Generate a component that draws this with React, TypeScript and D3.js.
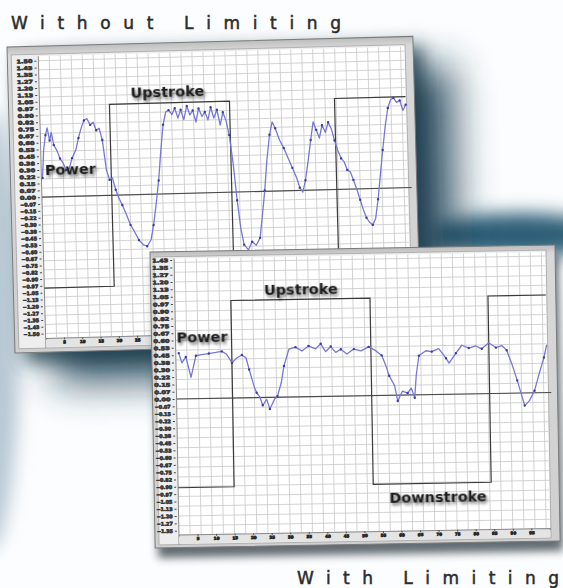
"use client";

import React, { useEffect, useRef } from "react";
import * as d3 from "d3";

// sweep time in % of the captured window, power in units of stroke amplitude
const withoutTime = [
	0.3, 0.8, 1.4, 1.9, 2.5, 3.0, 3.6, 4.4, 5.2, 6.0,
	6.8, 7.7, 8.5, 9.6, 10.4, 11.2, 12.0, 12.8, 13.7, 14.5,
	15.3, 16.1, 16.9, 17.8, 18.6, 19.4, 20.2, 21.0, 21.9, 23.0,
	24.0, 25.1, 26.2, 27.3, 28.4, 29.5, 30.3, 31.1, 32.0, 32.8,
	33.6, 34.4, 35.2, 36.1, 36.9, 37.7, 38.5, 39.3, 40.2, 41.0,
	41.8, 42.6, 43.4, 44.3, 45.1, 45.9, 46.7, 47.5, 48.4, 49.2,
	50.0, 50.8, 51.6, 52.5, 53.3, 54.1, 54.9, 56.0, 57.1, 58.2,
	59.3, 60.1, 60.9, 61.7, 62.6, 63.4, 64.2, 65.3, 66.4, 67.5,
	68.6, 69.7, 70.5, 71.3, 72.1, 73.0, 73.8, 74.6, 75.4, 76.2,
	77.0, 77.9, 78.7, 79.5, 80.3, 81.1, 82.0, 82.8, 83.6, 84.4,
	85.2, 86.1, 86.9, 87.7, 88.5, 89.3, 90.2, 91.0, 91.8, 92.6,
	93.4, 94.3, 95.1, 95.9, 96.7, 97.5, 98.4, 99.2, 100,
];
const withoutPower = [
	0.21, 0.52, 0.68, 0.76, 0.62, 0.71, 0.57, 0.51, 0.42, 0.37,
	0.29, 0.31, 0.42, 0.51, 0.64, 0.75, 0.83, 0.85, 0.78, 0.81,
	0.72, 0.74, 0.61, 0.28, 0.17, 0.19, 0.06, -0.03, -0.11, -0.22,
	-0.33, -0.41, -0.5, -0.55, -0.57, -0.5, -0.34, -0.12, 0.15, 0.48,
	0.76, 0.9, 0.92, 0.87, 0.94, 0.83, 0.92, 0.81, 0.96, 0.86,
	0.91, 0.78, 0.93, 0.84, 0.89, 0.8, 0.94, 0.82, 0.91, 0.74,
	0.88, 0.79, 0.63, 0.3, -0.09, -0.4, -0.58, -0.64, -0.55, -0.59,
	-0.51, -0.26, 0.01, 0.34, 0.62, 0.76, 0.69, 0.56, 0.47, 0.36,
	0.25, 0.14, 0.03, -0.02, 0.11, 0.33, 0.55, 0.75, 0.66, 0.57,
	0.71, 0.63, 0.74, 0.67, 0.54, 0.43, 0.34, 0.3, 0.21, 0.19,
	0.1, -0.01, -0.12, -0.23, -0.32, -0.37, -0.4, -0.33, -0.12, 0.15,
	0.42, 0.69, 0.88, 0.97, 0.99, 0.94, 0.96, 0.85, 0.91,
];
const withoutStrokeTime = [0, 19.1, 51.9, 80.6, 100];
const withoutStrokeLevel = [-1, 1, -1, 1, 1];

const withTime = [
	0.8, 1.6, 2.7, 4.0, 5.4, 7.0, 8.9, 10.8, 12.4, 13.7,
	15.1, 16.4, 17.8, 18.9, 19.7, 21.0, 21.6, 22.4, 23.2, 24.3,
	25.1, 26.4, 27.2, 28.3, 29.1, 30.5, 32.3, 34.0, 35.8, 37.7,
	39.1, 40.4, 41.8, 43.1, 44.5, 46.1, 48.0, 49.9, 52.0, 53.9,
	55.5, 56.6, 57.4, 58.8, 59.6, 60.9, 62.3, 63.3, 64.2, 64.7,
	65.5, 67.4, 69.0, 70.9, 72.8, 73.6, 75.5, 77.1, 79.0, 80.9,
	82.5, 84.4, 86.3, 87.9, 89.2, 90.6, 91.9, 93.0, 93.8, 95.1,
	96.5, 97.8, 99.2, 100,
];
const withPower = [
	0.47, 0.37, 0.43, 0.22, 0.44, 0.45, 0.46, 0.47, 0.48, 0.45,
	0.36, 0.41, 0.44, 0.41, 0.29, 0.11, 0.05, 0.01, -0.08, -0.02,
	-0.12, -0.02, 0.01, 0.15, 0.32, 0.49, 0.51, 0.47, 0.52, 0.49,
	0.54, 0.46, 0.51, 0.45, 0.48, 0.43, 0.48, 0.46, 0.5, 0.46,
	0.41, 0.3, 0.2, 0.1, -0.06, 0.04, 0.02, 0.07, -0.03, 0.2,
	0.4, 0.45, 0.44, 0.47, 0.37, 0.32, 0.42, 0.5, 0.47, 0.49,
	0.46, 0.52, 0.47, 0.49, 0.44, 0.29, 0.13, -0.02, -0.13, -0.08,
	0.02, 0.19, 0.36, 0.49,
];
const withStrokeTime = [0, 15.1, 52.6, 84.4, 100];
const withStrokeLevel = [-0.91, 1, -0.91, 1, 1];

const titles = ["Without Limiting", "With Limiting"];

const W = 563;
const H = 588;

type Label = { text: string; t: number; v: number; dy: number; anchor: string };
type Panel = {
	key: string;
	x: number;
	y: number;
	angle: number;
	w: number;
	h: number;
	l: number;
	r: number;
	t: number;
	b: number;
	yMin: number;
	yMax: number;
	time: number[];
	power: number[];
	strokeTime: number[];
	strokeLevel: number[];
	labels: Label[];
};

const panels: Panel[] = [
	{
		key: "without",
		x: 7,
		y: 47,
		angle: -1.5,
		w: 406,
		h: 306,
		l: 31,
		r: 397,
		t: 10,
		b: 292,
		yMin: -1.55,
		yMax: 1.55,
		time: withoutTime,
		power: withoutPower,
		strokeTime: withoutStrokeTime,
		strokeLevel: withoutStrokeLevel,
		labels: [
			{ text: "Upstroke", t: 35, v: 1, dy: -6, anchor: "middle" },
			{ text: "Power", t: 1, v: 0.24, dy: 0, anchor: "start" },
		],
	},
	{
		key: "with",
		x: 150,
		y: 252,
		angle: -1,
		w: 405,
		h: 296,
		l: 24,
		r: 395,
		t: 7,
		b: 283,
		yMin: -1.39,
		yMax: 1.44,
		time: withTime,
		power: withPower,
		strokeTime: withStrokeTime,
		strokeLevel: withStrokeLevel,
		labels: [
			{ text: "Upstroke", t: 34, v: 1, dy: -5, anchor: "middle" },
			{ text: "Power", t: 0.3, v: 0.58, dy: 0, anchor: "start" },
			{ text: "Downstroke", t: 70, v: -0.91, dy: 19, anchor: "middle" },
		],
	},
];

function drawShadow(svg: any, p: Panel, dx: number, dy: number, blur: string, color: string, op: number) {
	svg
		.append("g")
		.attr("transform", `translate(${p.x + dx},${p.y + dy}) rotate(${p.angle})`)
		.append("rect")
		.attr("width", p.w)
		.attr("height", p.h)
		.attr("fill", color)
		.attr("opacity", op)
		.attr("filter", `url(#${blur})`);
}

function drawPanel(svg: any, defs: any, p: Panel) {
	const g = svg
		.append("g")
		.attr("transform", `translate(${p.x},${p.y}) rotate(${p.angle})`);

	const x = d3.scaleLinear().domain([0, 100]).range([p.l, p.r]);
	const y = d3.scaleLinear().domain([p.yMin, p.yMax]).range([p.b, p.t]);

	// frame
	g.append("rect")
		.attr("width", p.w)
		.attr("height", p.h)
		.attr("fill", "url(#frameFill)")
		.attr("stroke", "#7a7a7a")
		.attr("stroke-width", 1);
	g.append("rect")
		.attr("x", 4)
		.attr("y", p.t - 2)
		.attr("width", p.r - 3)
		.attr("height", p.b - p.t + 12)
		.attr("fill", "#eeeeee")
		.attr("stroke", "#9c9c9c")
		.attr("stroke-width", 0.7);

	// plot face
	g.append("rect")
		.attr("x", p.l)
		.attr("y", p.t)
		.attr("width", p.r - p.l)
		.attr("height", p.b - p.t)
		.attr("fill", "#ffffff");

	const grid = g.append("g").attr("stroke", "#c8c8c8").attr("stroke-width", 0.8);
	grid
		.selectAll("line.v")
		.data(d3.range(3, 100, 3))
		.join("line")
		.attr("x1", (d: number) => x(d))
		.attr("x2", (d: number) => x(d))
		.attr("y1", p.t)
		.attr("y2", p.b);
	grid
		.selectAll("line.h")
		.data(d3.range(Math.ceil(p.yMin * 10), Math.floor(p.yMax * 10) + 1).map((d) => d / 10))
		.join("line")
		.attr("x1", p.l)
		.attr("x2", p.r)
		.attr("y1", (d: number) => y(d))
		.attr("y2", (d: number) => y(d));

	g.append("line")
		.attr("x1", p.l)
		.attr("x2", p.l)
		.attr("y1", p.t)
		.attr("y2", p.b + 10)
		.attr("stroke", "#8a8a8a");

	// left ruler labels (smudged tiny numbers)
	const yTicks = d3.range(Math.ceil(p.yMin / 0.075), Math.floor(p.yMax / 0.075) + 1).map((d) => d * 0.075);
	const yAxis = g
		.append("g")
		.attr("transform", `translate(${p.l - 2},0)`)
		.call(d3.axisLeft(y).tickValues(yTicks).tickSize(2).tickFormat(d3.format(".2f")));
	yAxis.select(".domain").remove();
	yAxis.selectAll("line").attr("stroke", "#444");
	yAxis
		.selectAll("text")
		.attr("font-family", "DejaVu Sans")
		.attr("font-size", 5)
		.attr("font-weight", "bold")
		.attr("fill", "#2a2a2a")
		.attr("stroke", "#3a3a3a")
		.attr("stroke-width", 0.7)
		.attr("textLength", 16)
		.attr("lengthAdjust", "spacingAndGlyphs")
		.attr("dx", 1);

	// bottom ruler
	g.append("rect")
		.attr("x", p.l)
		.attr("y", p.b)
		.attr("width", p.r - p.l)
		.attr("height", 9)
		.attr("fill", "#e4e4e4");
	const xAxis = g
		.append("g")
		.attr("transform", `translate(0,${p.b})`)
		.call(d3.axisBottom(x).tickValues(d3.range(5, 100, 5)).tickSize(2).tickFormat(d3.format("d")));
	xAxis.select(".domain").attr("stroke", "#8a8a8a");
	xAxis.selectAll("line").attr("stroke", "#555");
	xAxis
		.selectAll("text")
		.attr("font-family", "DejaVu Sans")
		.attr("font-size", 4)
		.attr("font-weight", "bold")
		.attr("fill", "#2a2a2a")
		.attr("stroke", "#2a2a2a")
		.attr("stroke-width", 0.8)
		.attr("dy", "0.2em");

	// clip
	defs
		.append("clipPath")
		.attr("id", `clip-${p.key}`)
		.append("rect")
		.attr("x", p.l)
		.attr("y", p.t)
		.attr("width", p.r - p.l + 4)
		.attr("height", p.b - p.t);

	const body = g.append("g").attr("clip-path", `url(#clip-${p.key})`);

	// zero line
	body
		.append("line")
		.attr("x1", p.l)
		.attr("x2", p.r + 4)
		.attr("y1", y(0))
		.attr("y2", y(0))
		.attr("stroke", "#4a4a4a")
		.attr("stroke-width", 1.1);

	// stroke square wave
	const stroke = p.strokeTime.map((tt, i) => [tt, p.strokeLevel[i]] as [number, number]);
	body
		.append("path")
		.attr(
			"d",
			d3
				.line<[number, number]>()
				.x((d) => x(d[0]))
				.y((d) => y(d[1]))
				.curve(d3.curveStepAfter)(stroke)
		)
		.attr("fill", "none")
		.attr("stroke", "#3a3a3a")
		.attr("stroke-width", 1.2);

	// power trace
	const pts = p.time.map((tt, i) => [tt, p.power[i]] as [number, number]);
	body
		.append("path")
		.attr(
			"d",
			d3
				.line<[number, number]>()
				.x((d) => x(d[0]))
				.y((d) => y(d[1]))(pts)
		)
		.attr("fill", "none")
		.attr("stroke", "#7777d8")
		.attr("stroke-width", 1.3)
		.attr("stroke-linejoin", "round");
	body
		.selectAll("circle")
		.data(pts.filter((_, i) => i % 2 === 0))
		.join("circle")
		.attr("cx", (d: [number, number]) => x(d[0]))
		.attr("cy", (d: [number, number]) => y(d[1]))
		.attr("r", 1.2)
		.attr("fill", "#3c3ca0");

	// labels
	g.selectAll("text.lbl")
		.data(p.labels)
		.join("text")
		.attr("class", "lbl")
		.attr("x", (d: Label) => x(d.t))
		.attr("y", (d: Label) => y(d.v) + d.dy)
		.attr("text-anchor", (d: Label) => d.anchor)
		.attr("font-family", "DejaVu Sans")
		.attr("font-weight", "bold")
		.attr("font-size", 14.5)
		.attr("fill", "#1e1e1e")
		.attr("filter", "url(#textShadow)")
		.text((d: Label) => d.text);
}

const App: React.FC = () => {
	const svgRef = useRef<SVGSVGElement>(null);

	useEffect(() => {
		if (!svgRef.current) return;
		const svg = d3.select(svgRef.current);
		svg.selectAll("*").remove();

		const defs = svg.append("defs");
		[["blurBig", 20], ["blurMid", 9], ["blurSmall", 4]].forEach(([id, s]) => {
			defs
				.append("filter")
				.attr("id", id as string)
				.attr("x", "-50%")
				.attr("y", "-50%")
				.attr("width", "200%")
				.attr("height", "200%")
				.append("feGaussianBlur")
				.attr("stdDeviation", s as number);
		});
		defs
			.append("filter")
			.attr("id", "textShadow")
			.attr("x", "-20%")
			.attr("y", "-40%")
			.attr("width", "140%")
			.attr("height", "180%")
			.append("feDropShadow")
			.attr("dx", 1.5)
			.attr("dy", 2.5)
			.attr("stdDeviation", 1.8)
			.attr("flood-color", "#000")
			.attr("flood-opacity", 0.55);
		const fg = defs
			.append("linearGradient")
			.attr("id", "frameFill")
			.attr("x1", 0)
			.attr("y1", 0)
			.attr("x2", 0)
			.attr("y2", 1);
		fg.append("stop").attr("offset", 0).attr("stop-color", "#bdbdbd");
		fg.append("stop").attr("offset", 0.03).attr("stop-color", "#d9d9d9");
		fg.append("stop").attr("offset", 1).attr("stop-color", "#cfcfcf");

		// backdrop
		svg.append("rect").attr("width", W).attr("height", H).attr("fill", "#fcfdfe");
		svg
			.append("ellipse")
			.attr("cx", -10)
			.attr("cy", 330)
			.attr("rx", 30)
			.attr("ry", 220)
			.attr("fill", "#b7c8d4")
			.attr("filter", "url(#blurMid)");
		svg
			.append("ellipse")
			.attr("cx", 520)
			.attr("cy", 235)
			.attr("rx", 90)
			.attr("ry", 22)
			.attr("fill", "#2f5f78")
			.attr("filter", "url(#blurMid)");

		drawShadow(svg, panels[0], 40, 30, "blurBig", "#143a50", 0.85);
		drawShadow(svg, panels[0], 10, 10, "blurMid", "#1d3c4e", 0.8);
		drawPanel(svg, defs, panels[0]);
		drawShadow(svg, panels[1], 3, 10, "blurSmall", "#2f3a42", 0.75);
		drawPanel(svg, defs, panels[1]);

		// titles
		const titleY = [29, 584];
		const titleX = [11, 297];
		const titleLen = [330, 262];
		titles.forEach((txt, i) => {
			svg
				.append("text")
				.attr("x", titleX[i])
				.attr("y", titleY[i])
				.attr("font-family", "DejaVu Sans")
				.attr("font-size", 17)
				.attr("fill", "#2c2c2c")
				.attr("stroke", "#2c2c2c")
				.attr("stroke-width", 0.5)
				.attr("textLength", titleLen[i])
				.attr("lengthAdjust", "spacing")
				.text(txt);
		});
	}, []);

	return (
		<svg
			ref={svgRef}
			width={W}
			height={H}
			style={{ position: "absolute", left: 0, top: 0 }}
		/>
	);
};

export default App;
